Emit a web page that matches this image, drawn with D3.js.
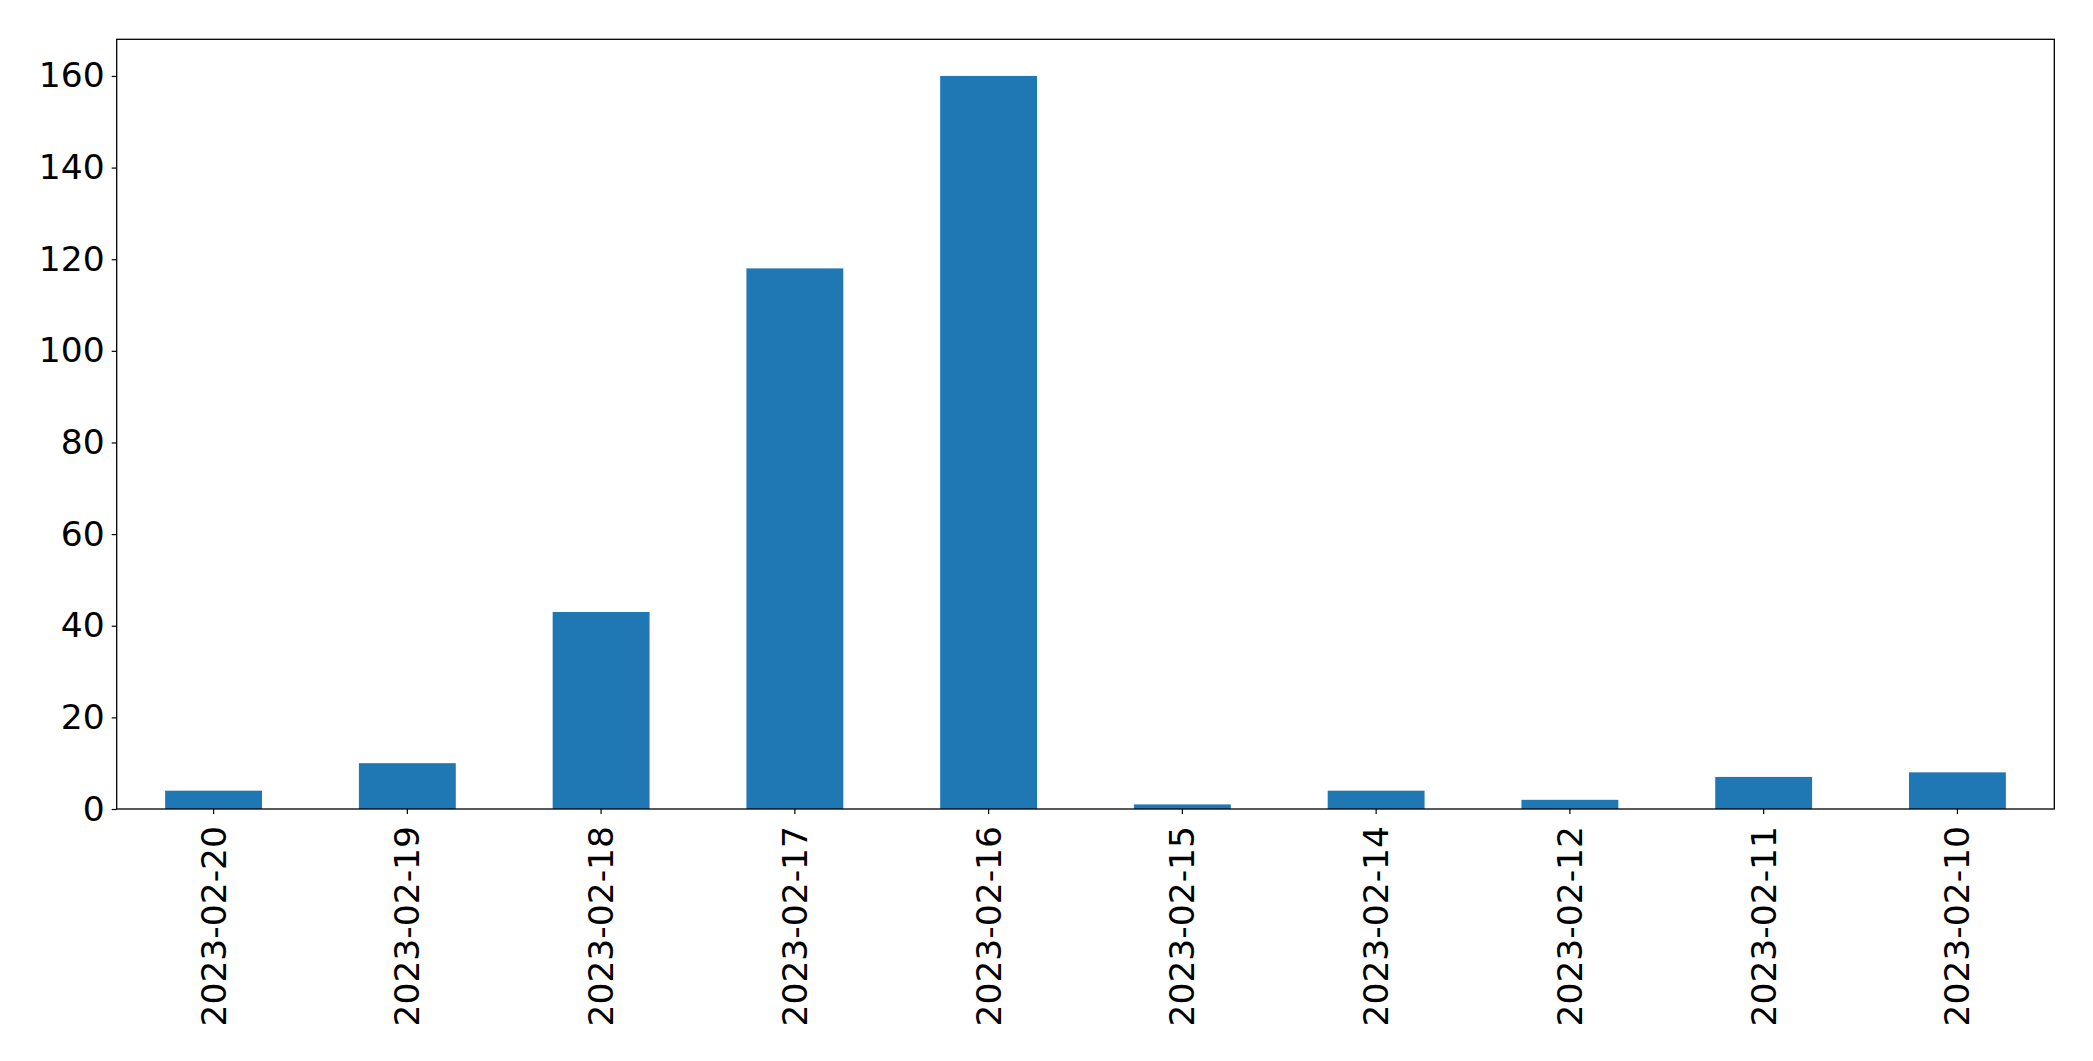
<!DOCTYPE html>
<html>
<head>
<meta charset="utf-8">
<script src="https://cdn.jsdelivr.net/npm/d3@7"></script>
<style>
  html, body { margin: 0; padding: 0; background: #fff; }
  svg { display: block; }
</style>
</head>
<body>
<svg id="chart" width="2093" height="1061"></svg>
<script>
const categories = ["2023-02-20","2023-02-19","2023-02-18","2023-02-17","2023-02-16","2023-02-15","2023-02-14","2023-02-12","2023-02-11","2023-02-10"];
const values = [4, 10, 43, 118, 160, 1, 4, 2, 7, 8];
const yTicks = [0, 20, 40, 60, 80, 100, 120, 140, 160];

const W = 2093, H = 1061;
const m = { left: 116.7, right: W - 2054.3, top: 39.3, bottom: H - 809 };
const svg = d3.select("#chart");
const x = d3.scaleBand().domain(categories).range([m.left, W - m.right]).paddingInner(0.5).paddingOuter(0.25);
const y = d3.scaleLinear().domain([0, 168]).range([H - m.bottom, m.top]);

const font = "'DejaVu Sans', sans-serif";
const fs = 34.5;

svg.append("g").selectAll("rect").data(values).join("rect")
  .attr("x", (d, i) => x(categories[i]))
  .attr("width", x.bandwidth())
  .attr("y", d => y(d))
  .attr("height", d => y(0) - y(d))
  .attr("fill", "#1f77b4");

// y axis
const yAxis = svg.append("g").attr("transform", `translate(${m.left},0)`)
  .call(d3.axisLeft(y).tickValues(yTicks).tickSize(5).tickPadding(7).tickFormat(d3.format("d")));
yAxis.select(".domain").remove();
yAxis.selectAll("line").attr("stroke", "#000").attr("stroke-width", 1.2);
yAxis.selectAll("text").attr("font-family", font).attr("font-size", fs).attr("fill", "#000");

// x axis
const xAxis = svg.append("g").attr("transform", `translate(0,${H - m.bottom})`)
  .call(d3.axisBottom(x).tickSize(5).tickPadding(0));
xAxis.select(".domain").remove();
xAxis.selectAll("line").attr("stroke", "#000").attr("stroke-width", 1.2);
xAxis.selectAll("text")
  .attr("font-family", font).attr("font-size", fs).attr("fill", "#000")
  .attr("text-anchor", "end")
  .attr("transform", "translate(0,17) rotate(-90)")
  .attr("x", 0).attr("y", 0).attr("dy", "0.35em");

// frame
svg.append("rect")
  .attr("x", m.left).attr("y", m.top)
  .attr("width", W - m.right - m.left).attr("height", H - m.bottom - m.top)
  .attr("fill", "none").attr("stroke", "#000").attr("stroke-width", 1.3);
</script>
</body>
</html>
